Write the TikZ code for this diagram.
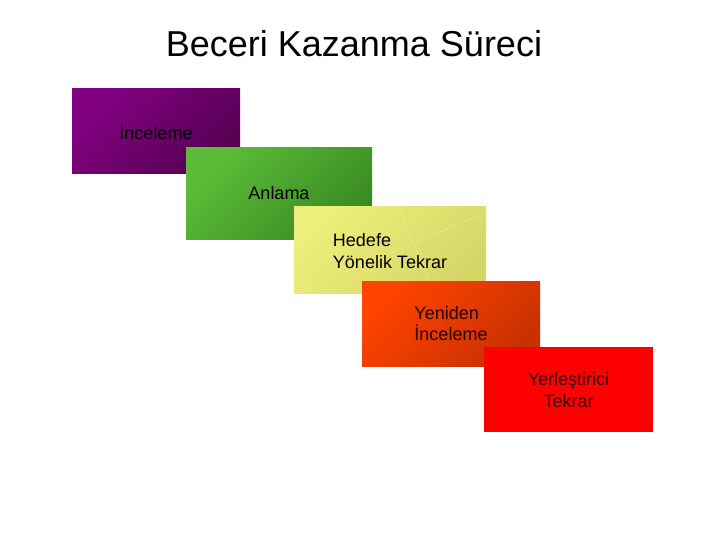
\documentclass[tikz,border=0pt]{standalone}
\usepackage{fontspec}
\setmainfont{Liberation Sans}
\begin{document}
\begin{tikzpicture}[x=1pt,y=-1pt,
  stepbox/.style={minimum width=#1, inner sep=0pt, font=\fontsize{18}{21.6}\selectfont, text=black!90},
  boxlabel/.style={align=left, font=\fontsize{18}{21.6}\selectfont, inner sep=0pt}]
\useasboundingbox (0,0) rectangle (720,540);
\definecolor{purpA}{HTML}{820082}
\definecolor{purpB}{HTML}{560052}
\definecolor{grnA}{HTML}{5CBC38}
\definecolor{grnB}{HTML}{3A8A22}
\definecolor{yelA}{HTML}{EEEE7A}
\definecolor{yelB}{HTML}{D6D668}
\definecolor{orgA}{HTML}{FF4400}
\definecolor{orgB}{HTML}{C83000}
\definecolor{redA}{HTML}{FF0000}

\node[font=\fontsize{36}{43}\selectfont, inner sep=0pt] (title) at (354,44) {Beceri Kazanma Süreci};

% boxes
\shade[top color=purpA, bottom color=purpB, shading angle=45] (72,89) rectangle (240,174);
\node[boxlabel] (b1) at (156,131.5) {İnceleme};

\shade[top color=grnA, bottom color=grnB, shading angle=45] (186,148) rectangle (372,239);
\node[boxlabel] (b2) at (279,193.5) {Anlama};

\shade[top color=yelA, bottom color=yelB, shading angle=45] (294,207) rectangle (486,293);
\draw[white, dotted, line width=0.6pt] (398,207) -- (429,280);
\draw[white, dotted, line width=0.6pt] (486,212) -- (298,293);
\node[boxlabel] (b3) at (390,251) {Hedefe\\Yönelik Tekrar};

\shade[top color=orgA, bottom color=orgB, shading angle=45] (362,281) rectangle (540,366);
\node[boxlabel, text=black!85!red] (b4) at (451,323.5) {Yeniden\\İnceleme};

\fill[redA] (484,347) rectangle (653,432);
\node[boxlabel, align=center, text=black!80!red] (b5) at (568.5,390) {Yerleştirici\\Tekrar};
\end{tikzpicture}
\end{document}
